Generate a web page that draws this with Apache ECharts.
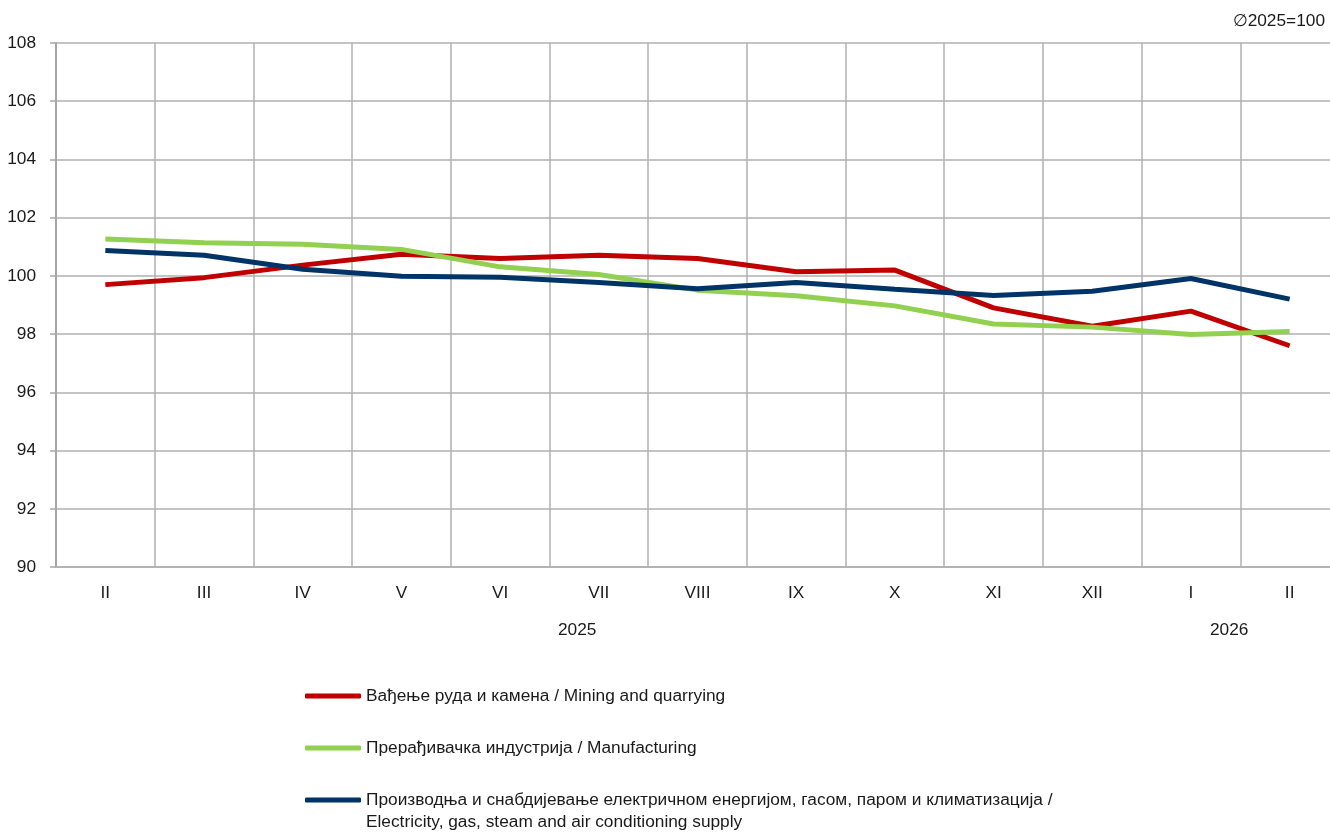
<!DOCTYPE html>
<html>
<head>
<meta charset="utf-8">
<script src="https://cdn.jsdelivr.net/npm/echarts@6/dist/echarts.min.js"></script>
<style>html,body{margin:0;padding:0;background:#fff}#c{width:1330px;height:834px}</style>
</head>
<body>
<div id="c"></div>
<script>
var categories = ['II','III','IV','V','VI','VII','VIII','IX','X','XI','XII','I','II'];
var yearLabels = ['2025','2026'];
var mining = [99.70, 99.94, 100.37, 100.74, 100.60, 100.71, 100.60, 100.14, 100.20, 98.90, 98.27, 98.79, 97.60];
var manufacturing = [101.27, 101.14, 101.09, 100.91, 100.31, 100.05, 99.51, 99.32, 98.97, 98.35, 98.24, 97.99, 98.09];
var electricity = [100.87, 100.71, 100.23, 99.99, 99.95, 99.77, 99.56, 99.77, 99.54, 99.33, 99.47, 99.91, 99.20];
var names = [
  'Вађење руда и камена / Mining and quarrying',
  'Прерађивачка индустрија / Manufacturing',
  'Производња и снабдијевање електричном енергијом, гасом, паром и климатизација /\nElectricity, gas, steam and air conditioning supply'
];
var colors = ['#c00000', '#92d050', '#003366'];
var FONT = '"Liberation Sans", Arial, sans-serif';

var chart = echarts.init(document.getElementById('c'));
function legendFor(i, top, extra) {
  var l = {
    data: [names[i]], orient: 'vertical', left: 305, top: top, padding: 0,
    icon: 'roundRect', itemWidth: 56, itemHeight: 5,
    textStyle: {fontFamily: FONT, fontSize: 17.3, color: '#1a1a1a', lineHeight: 22},
    selectedMode: false
  };
  if (extra) Object.assign(l, extra);
  return l;
}
chart.setOption({
  animation: false,
  color: colors,
  grid: {left: 56, top: 43, width: 1283, height: 524, outerBoundsMode: 'none', containLabel: false},
  title: {text: '∅2025=100', right: 0, top: 8,
    textStyle: {fontFamily: FONT, fontSize: 17.3, fontWeight: 'normal', color: '#1a1a1a'}},
  legend: [
    legendFor(0, 685),
    legendFor(1, 737),
    legendFor(2, 767, {formatter: function (n) { return '\n' + n; }})
  ],
  graphic: [
    {type: 'text', left: 558, top: 622, style: {text: yearLabels[0], font: '17.3px ' + FONT, fill: '#1a1a1a'}},
    {type: 'text', left: 1210, top: 622, style: {text: yearLabels[1], font: '17.3px ' + FONT, fill: '#1a1a1a'}}
  ],
  xAxis: {
    type: 'category', data: categories, boundaryGap: true,
    axisLine: {lineStyle: {color: '#b3b3b3', width: 2}},
    axisTick: {show: false},
    axisLabel: {margin: 18, fontFamily: FONT, fontSize: 17.3, color: '#1a1a1a'},
    splitLine: {show: true, lineStyle: {color: '#b0b0b0', width: 1.5}}
  },
  yAxis: {
    type: 'value', min: 90, max: 108, interval: 2,
    axisLine: {show: true, lineStyle: {color: '#a6a6a6', width: 2}},
    axisTick: {show: true, length: 6, lineStyle: {color: '#a6a6a6', width: 1.5}},
    axisLabel: {margin: 20, fontFamily: FONT, fontSize: 17.3, color: '#1a1a1a'},
    splitLine: {show: true, lineStyle: {color: '#b0b0b0', width: 1.5}}
  },
  series: [
    {name: names[0], type: 'line', data: mining, symbol: 'none', lineStyle: {width: 5, color: colors[0]}, itemStyle: {color: colors[0]}},
    {name: names[1], type: 'line', data: manufacturing, symbol: 'none', lineStyle: {width: 5, color: colors[1]}, itemStyle: {color: colors[1]}},
    {name: names[2], type: 'line', data: electricity, symbol: 'none', lineStyle: {width: 5, color: colors[2]}, itemStyle: {color: colors[2]}}
  ]
});
</script>
</body>
</html>
